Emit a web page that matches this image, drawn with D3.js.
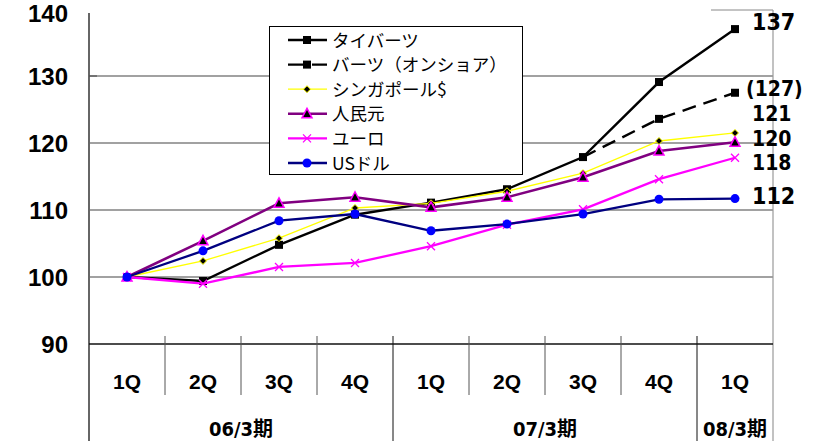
<!DOCTYPE html>
<html><head><meta charset="utf-8">
<script src="https://cdn.jsdelivr.net/npm/d3@7"></script>
<style>body{margin:0;background:#fff}svg{display:block}</style>
</head><body><svg id="c" width="823" height="441"></svg>
<script>
const quarters = ["1Q","2Q","3Q","4Q","1Q","2Q","3Q","4Q","1Q"];
const periods = [{label:"06/3期", from:0, to:3},{label:"07/3期", from:4, to:7},{label:"08/3期", from:8, to:8}];
const yTicks = [90,100,110,120,130,140];
const bahtTH   = [100, 99.4, 104.8, 109.3, 111.1, 113.1, 117.9, 129.1, 137.0];
const bahtOn   = [null,null,null,null,null,null, 117.9, 123.6, 127.5];
const sgd      = [100, 102.4, 105.8, 110.3, 111.0, 112.8, 115.5, 120.3, 121.5];
const rmb      = [100, 105.4, 111.0, 111.9, 110.4, 111.9, 114.9, 118.8, 120.1];
const eur      = [100, 99.0, 101.5, 102.1, 104.6, 107.8, 110.1, 114.6, 117.8];
const usd      = [100, 103.9, 108.4, 109.4, 106.9, 107.9, 109.4, 111.6, 111.7];
const names    = ["タイバーツ","バーツ（オンショア）","シンガポール$","人民元","ユーロ","USドル"];
const endLabels = ["137","(127)","121","120","118","112"];

const series = [
  {name:names[0], values:bahtTH, color:"#000", width:2.4, dash:null, marker:"square", label:endLabels[0]},
  {name:names[1], values:bahtOn, color:"#000", width:2.4, dash:"14,8", marker:"square", label:endLabels[1]},
  {name:names[2], values:sgd, color:"#ffff00", width:1.3, dash:null, marker:"diamond", label:endLabels[2]},
  {name:names[3], values:rmb, color:"#800080", width:2.6, dash:null, marker:"triangle", label:endLabels[3]},
  {name:names[4], values:eur, color:"#ff00ff", width:2.3, dash:null, marker:"x", label:endLabels[4]},
  {name:names[5], values:usd, color:"#000080", width:2.3, dash:null, marker:"circle", label:endLabels[5]}
];

const svg = d3.select("#c");
const L = 89, R = 773, T = 9, B = 344;
const x = d3.scaleBand().domain(d3.range(quarters.length)).range([L, R]);
const y = d3.scaleLinear().domain([90, 140]).range([B, T]);
const cx = i => x(i) + x.bandwidth()/2;

// gridlines
svg.append("g").selectAll("line").data(yTicks.filter(v => v > 90 && v < 140)).join("line")
  .attr("x1", L).attr("x2", R).attr("y1", d => y(d)).attr("y2", d => y(d))
  .attr("stroke", "#444").attr("stroke-width", 1.2);
// top border partial (rest hidden by title box)
svg.append("line").attr("x1", 711).attr("x2", R).attr("y1", y(140)+1).attr("y2", y(140)+1).attr("stroke", "#888").attr("stroke-width", 1);
// right border
svg.append("line").attr("x1", R).attr("x2", R).attr("y1", y(140)+1).attr("y2", 441).attr("stroke", "#999").attr("stroke-width", 1.2);

// y axis
const yAxis = d3.axisLeft(y).tickValues(yTicks).tickSize(0).tickPadding(21);
const gy = svg.append("g").attr("transform", `translate(${L},0)`).call(yAxis);
gy.select(".domain").remove();
gy.selectAll("text").attr("font-family", "Liberation Sans, Arial, sans-serif").attr("font-weight", "bold").attr("font-size", 24).attr("fill", "#000")
  .attr("dy", (d) => d === 140 ? "0.52em" : "0.35em");
svg.append("line").attr("x1", L).attr("x2", L).attr("y1", 13).attr("y2", 441).attr("stroke", "#666").attr("stroke-width", 2);
svg.append("line").attr("x1", L).attr("x2", L+8).attr("y1", y(130)).attr("y2", y(130)).attr("stroke", "#444");

// x axis line
svg.append("line").attr("x1", L).attr("x2", R).attr("y1", B).attr("y2", B).attr("stroke", "#111").attr("stroke-width", 1.5);
// quarter separators
const seps = d3.range(1, quarters.length);
svg.append("g").selectAll("line").data(seps).join("line")
  .attr("x1", i => x(i)).attr("x2", i => x(i))
  .attr("y1", B - 8)
  .attr("y2", i => (i === 4 || i === 8) ? 441 : 395)
  .attr("stroke", i => (i === 4 || i === 8) ? "#111" : "#555").attr("stroke-width", 1);
svg.append("g").selectAll("text").data(quarters).join("text")
  .attr("x", (d, i) => cx(i)).attr("y", 389).attr("text-anchor", "middle")
  .attr("font-family", "Liberation Sans, Arial, sans-serif").attr("font-weight", "bold").attr("font-size", 21)
  .text(d => d);
svg.append("g").selectAll("text").data(periods).join("text")
  .attr("x", d => (x(d.from) + x(d.to) + x.bandwidth())/2).attr("y", 436).attr("text-anchor", "middle")
  .attr("font-family", "Liberation Sans Narrow, DejaVu Sans Condensed, Noto Sans CJK JP, sans-serif")
  .attr("font-weight", "bold").attr("font-size", 20)
  .text(d => d.label);

// lines
const line = d3.line().defined(d => d.v != null).x(d => cx(d.i)).y(d => y(d.v));
function marker(g, type) {
  if (type === "square") g.append("rect").attr("x", -4).attr("y", -4).attr("width", 8).attr("height", 8).attr("fill", "#000");
  else if (type === "diamond") g.append("path").attr("d", "M0,-3.5L3.5,0L0,3.5L-3.5,0Z").attr("fill", "#000").attr("stroke", "#ffff00").attr("stroke-width", 1);
  else if (type === "triangle") g.append("path").attr("d", "M0,-5.5L5,4L-5,4Z").attr("fill", "#000").attr("stroke", "#ff00ff").attr("stroke-width", 1.5);
  else if (type === "x") g.append("path").attr("d", "M-4,-4L4,4M-4,4L4,-4").attr("stroke", "#ff00ff").attr("stroke-width", 1.3);
  else if (type === "circle") g.append("circle").attr("r", 4.5).attr("fill", "#0000ff");
}
series.forEach(s => {
  const pts = s.values.map((v, i) => ({v, i}));
  svg.append("path").datum(pts).attr("d", line).attr("fill", "none")
    .attr("stroke", s.color).attr("stroke-width", s.width).attr("stroke-dasharray", s.dash);
  pts.filter(p => p.v != null && !(s.dash && p.i === 6)).forEach(p => {
    const g = svg.append("g").attr("transform", `translate(${cx(p.i)},${y(p.v)})`);
    marker(g, s.marker);
  });
});

// end labels
const labelY = [22, 88, 113, 138, 162, 196];
svg.append("g").selectAll("text").data(series).join("text")
  .attr("x", (d, i) => i === 1 ? 746 : 752).attr("y", (d, i) => labelY[i] + 7.5)
  .attr("font-family", "Liberation Sans Narrow, DejaVu Sans Condensed, sans-serif")
  .attr("font-weight", "bold").attr("font-size", (d, i) => (i === 0 || i === 5) ? 23 : 21)
  .text(d => d.label);

// legend
const lg = svg.append("g");
lg.append("rect").attr("x", 269.5).attr("y", 26.5).attr("width", 253).attr("height", 148).attr("fill", "#fff").attr("stroke", "#000").attr("stroke-width", 1);
series.forEach((s, i) => {
  const ly = 40 + i * 24.6;
  const g = lg.append("g").attr("transform", `translate(0,${ly})`);
  g.append("line").attr("x1", 288).attr("x2", 327).attr("y1", 0).attr("y2", 0)
    .attr("stroke", s.color).attr("stroke-width", s.width).attr("stroke-dasharray", s.dash ? "20,4" : null);
  const m = g.append("g").attr("transform", "translate(307,0)");
  marker(m, s.marker);
  g.append("text").attr("x", 332).attr("y", 6.5).attr("font-family", "Noto Sans CJK JP, sans-serif").attr("font-size", 17.5).text(s.name);
});
</script></body></html>
